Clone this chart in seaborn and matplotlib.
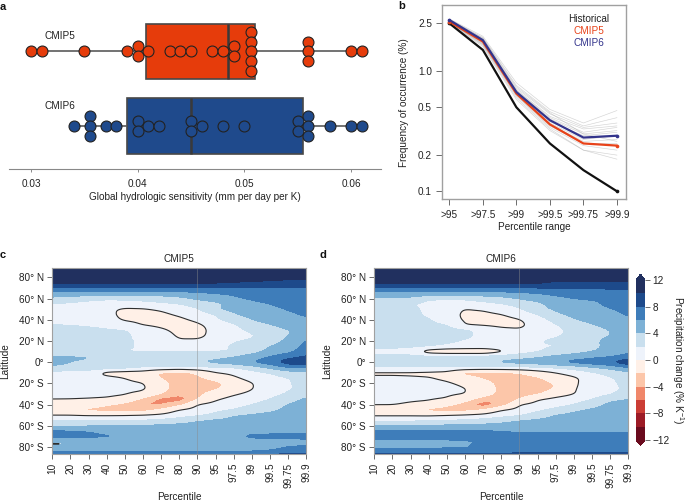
import numpy as np
import pandas as pd
import matplotlib
matplotlib.use("Agg")
import matplotlib.pyplot as plt
from matplotlib.colors import ListedColormap, BoundaryNorm
import seaborn as sns

sns.set_theme(style="ticks")
plt.rcParams["font.family"] = ["Liberation Sans", "DejaVu Sans"]
plt.rcParams["mathtext.default"] = "regular"
plt.rcParams["axes.unicode_minus"] = True

W, H = 685, 501
FS = 7.2
TXT = "#222222"

# ---------- panel a ----------
GROUPS = ["CMIP5", "CMIP6"]
HS_CMIP5 = [0.030, 0.031, 0.035, 0.039, 0.040, 0.040, 0.041, 0.043, 0.044, 0.045, 0.047, 0.048,
            0.049, 0.049, 0.0502, 0.0504, 0.0504, 0.0510, 0.0510, 0.056, 0.056, 0.056, 0.060, 0.061]
HS_CMIP6 = [0.034, 0.0355, 0.0355, 0.0355, 0.037, 0.038, 0.040, 0.040, 0.041, 0.042, 0.045, 0.045,
            0.046, 0.048, 0.050, 0.055, 0.055, 0.056, 0.056, 0.056, 0.058, 0.060, 0.061]
HS_TICKS = [0.03, 0.04, 0.05, 0.06]

# ---------- panel b ----------
RANGES = [">95", ">97.5", ">99", ">99.5", ">99.75", ">99.9"]
HISTORICAL = [2.50, 1.50, 0.50, 0.25, 0.15, 0.10]
FREQ_CMIP5 = [2.58, 1.76, 0.65, 0.36, 0.25, 0.24]
FREQ_CMIP6 = [2.66, 1.81, 0.67, 0.39, 0.28, 0.29]
MODELS = [
    [2.72, 1.95, 0.80, 0.48, 0.37, 0.47],
    [2.68, 1.90, 0.76, 0.46, 0.35, 0.41],
    [2.66, 1.85, 0.72, 0.44, 0.34, 0.37],
    [2.64, 1.82, 0.70, 0.42, 0.33, 0.35],
    [2.62, 1.80, 0.69, 0.41, 0.31, 0.34],
    [2.60, 1.78, 0.67, 0.40, 0.30, 0.32],
    [2.60, 1.75, 0.66, 0.38, 0.29, 0.31],
    [2.58, 1.72, 0.65, 0.37, 0.27, 0.29],
    [2.56, 1.70, 0.64, 0.36, 0.26, 0.27],
    [2.55, 1.68, 0.63, 0.35, 0.25, 0.25],
    [2.54, 1.66, 0.62, 0.34, 0.24, 0.22],
    [2.52, 1.64, 0.60, 0.33, 0.22, 0.20],
    [2.50, 1.60, 0.58, 0.32, 0.22, 0.185],
    [2.70, 1.88, 0.74, 0.45, 0.30, 0.26],
]
FREQ_TICKS = [0.1, 0.2, 0.5, 1.0, 2.5]

# ---------- panels c, d ----------
PERCENTILES = ["10", "20", "30", "40", "50", "60", "70", "80", "90", "95", "97.5", "99", "99.5", "99.75", "99.9"]
LAT_LABELS = ["80° N", "60° N", "40° N", "20° N", "0°", "20° S", "40° S", "60° S", "80° S"]
LAT_TICKS = [80, 60, 40, 20, 0, -20, -40, -60, -80]
LAT_C = [89, 80, 75, 70, 65, 60, 55, 50, 45, 40, 35, 30, 25, 20, 15, 10, 5, 0, -5, -10, -15, -20, -25, -30,
         -35, -40, -45, -50, -55, -60, -65, -70, -75, -76, -77, -78, -80, -85, -87]
CHANGE_C = [
    [13, 13, 13, 13, 13, 13, 13, 13, 13, 13, 13, 13, 13, 13, 13],
    [12, 12, 12, 12, 12, 12, 12, 12, 12, 12, 12, 12, 11, 10.6, 10.5],
    [10.8, 10.8, 10.8, 10.8, 10.8, 10.8, 10.8, 10.8, 10.6, 10.2, 9.8, 9.5, 9.3, 9.3, 9.3],
    [7.7, 7.7, 7.7, 7.7, 7.7, 7.7, 7.7, 7.8, 8.0, 8.0, 7.9, 7.9, 7.9, 7.9, 7.9],
    [5.3, 5.4, 5.0, 5.0, 5.0, 5.0, 5.0, 5.2, 5.6, 6.0, 6.3, 7.0, 7.0, 7.2, 7.3],
    [3.5, 3.2, 2.6, 2.2, 2.3, 2.6, 3.0, 3.5, 4.3, 5.0, 5.7, 6.2, 6.6, 6.8, 7.0],
    [2.0, 1.6, 1.3, 1.2, 1.2, 1.3, 1.6, 2.0, 2.9, 3.4, 4.9, 5.6, 6.0, 6.4, 6.8],
    [1.2, 1.0, 0.7, 0.4, -0.3, -0.2, 0.2, 0.8, 1.8, 3.9, 4.5, 5.1, 5.7, 6.1, 6.6],
    [1.0, 0.9, 0.7, 0.4, -0.4, -0.5, -0.3, 0.2, 0.9, 2.0, 3.8, 4.6, 5.1, 5.7, 6.2],
    [1.2, 1.1, 0.9, 0.6, -0.2, -0.3, -0.5, -0.3, 0.3, 1.7, 2.7, 4.0, 4.6, 5.3, 5.8],
    [2.1, 2.0, 1.8, 1.5, 0.7, -0.1, -0.4, -0.6, -0.3, 0.7, 1.7, 3.2, 3.9, 4.6, 5.2],
    [2.6, 2.6, 2.4, 2.2, 2.1, 1.4, 0.3, -0.5, -0.7, 0.7, 1.4, 2.3, 3.2, 3.9, 4.6],
    [3.0, 3.0, 2.8, 2.5, 2.2, 1.6, 0.9, -0.3, -0.6, 0.8, 1.3, 1.8, 2.9, 4.0, 4.5],
    [3.0, 3.0, 2.8, 2.5, 2.1, 1.9, 1.2, 0.2, 0.4, 1.0, 1.9, 2.2, 3.2, 4.4, 6.2],
    [2.4, 2.4, 2.4, 2.4, 2.3, 1.7, 1.4, 1.2, 1.3, 1.6, 2.2, 3.0, 4.0, 4.8, 6.6],
    [1.8, 1.9, 1.9, 1.8, 1.9, 1.9, 1.9, 1.9, 1.9, 1.9, 2.0, 3.2, 4.5, 5.4, 7.2],
    [4.3, 4.3, 4.2, 3.9, 3.2, 2.9, 2.8, 2.9, 3.1, 3.4, 4.0, 5.0, 6.1, 7.4, 8.3],
    [4.8, 4.0, 3.6, 3.2, 3.0, 3.0, 3.0, 3.4, 4.1, 4.5, 5.2, 6.1, 7.2, 9.2, 9.8],
    [3.5, 3.4, 3.2, 3.0, 2.6, 2.0, 1.8, 1.7, 1.6, 1.9, 2.0, 3.0, 4.4, 6.0, 6.0],
    [1.3, 1.2, 1.0, -0.7, -0.9, -1.0, -2.4, -3.0, -1.8, -0.1, 0.4, 1.3, 2.0, 3.0, 3.4],
    [1.1, 1.0, 0.8, 0.5, 0.0, -0.8, -2.1, -3.0, -2.4, -1.3, -0.3, 0.6, 1.5, 1.9, 3.0],
    [0.9, 0.8, 0.7, 0.5, 0.4, 0.1, -1.4, -2.8, -3.2, -2.6, -1.0, -0.1, 1.0, 1.8, 2.8],
    [0.8, 0.7, 0.6, 0.5, 0.4, 0.3, -1.4, -2.8, -3.2, -2.3, -1.0, -0.1, 1.0, 1.8, 2.5],
    [0.6, 0.5, 0.4, 0.3, 0.1, -0.5, -2.0, -3.6, -2.6, -0.9, -0.2, 0.4, 1.3, 2.2, 3.5],
    [-0.05, -0.05, -0.1, -0.2, -0.6, -2.4, -4.8, -5.2, -2.0, -0.2, 0.5, 1.1, 2.0, 3.3, 4.3],
    [-0.5, -0.6, -1.0, -1.8, -2.6, -4.4, -4.2, -2.6, 0.1, 0.6, 1.1, 2.0, 3.0, 4.1, 4.6],
    [-1.1, -1.2, -2.5, -2.8, -2.9, -2.9, -1.6, 0.1, 0.6, 1.5, 2.1, 3.0, 3.6, 4.4, 4.8],
    [-0.1, -0.1, -0.2, -0.2, -0.1, 0.1, 0.4, 1.1, 1.7, 2.5, 3.9, 4.2, 4.5, 4.8, 5.0],
    [2.0, 2.0, 2.0, 2.0, 2.0, 2.1, 2.4, 3.0, 3.8, 4.3, 4.5, 4.7, 4.9, 5.0, 5.2],
    [3.7, 3.8, 3.9, 4.0, 4.1, 4.2, 4.5, 4.6, 4.8, 5.0, 5.0, 5.1, 5.2, 5.3, 5.4],
    [6.5, 6.2, 6.0, 5.5, 5.4, 5.0, 5.0, 5.0, 5.0, 5.0, 5.1, 5.2, 5.3, 5.5, 5.6],
    [6.2, 6.4, 6.3, 6.2, 6.1, 5.4, 5.0, 5.0, 5.0, 5.0, 5.6, 6.5, 6.6, 6.6, 6.7],
    [5.0, 5.0, 5.0, 5.0, 5.0, 5.0, 5.0, 5.0, 5.0, 5.0, 5.0, 5.0, 5.0, 5.0, 5.5],
    [5.0, 5.0, 5.0, 5.0, 5.0, 5.0, 5.0, 5.0, 5.0, 5.0, 5.0, 5.0, 5.0, 5.1, 5.6],
    [-3.0, 5.0, 5.0, 5.0, 5.0, 5.0, 5.0, 5.0, 5.0, 5.0, 5.0, 5.0, 5.0, 5.2, 5.6],
    [5.0, 5.0, 5.0, 5.0, 5.0, 5.0, 5.0, 5.0, 5.0, 5.0, 5.0, 5.0, 5.1, 5.4, 5.8],
    [5.0, 5.0, 5.0, 5.0, 5.0, 5.0, 5.0, 5.0, 5.0, 5.0, 5.0, 5.0, 5.3, 6.1, 6.6],
    [6.3, 6.3, 6.3, 6.3, 6.3, 6.3, 6.3, 6.3, 6.3, 6.3, 6.3, 6.3, 6.5, 7.0, 7.4],
    [8.3, 8.3, 8.3, 8.3, 8.3, 8.3, 8.3, 8.3, 8.3, 8.3, 8.3, 8.3, 8.3, 8.3, 8.3],
]
LAT_D = [89, 80, 75, 70, 65, 60, 55, 50, 45, 40, 35, 30, 25, 20, 15, 10, 5, 0, -5, -10, -15, -20, -25, -30,
         -35, -40, -45, -50, -55, -60, -65, -70, -75, -80, -85, -87]
CHANGE_D = [
    [13, 13, 13, 13, 13, 13, 13, 13, 13, 13, 13, 13, 13, 13, 13],
    [12, 12, 12, 12, 12, 12, 12, 12, 12, 12, 11, 11, 11, 11, 11],
    [10.6, 10.6, 10.6, 10.6, 10.6, 10.6, 10.6, 10.6, 10.6, 10.4, 9.6, 9.6, 9.6, 9.6, 9.6],
    [7.7, 7.7, 7.7, 7.7, 7.7, 7.7, 7.7, 7.7, 7.7, 8.0, 8.2, 8.2, 8.2, 8.2, 8.2],
    [5.4, 5.4, 5.4, 5.4, 5.4, 5.4, 5.4, 5.4, 5.7, 6.0, 6.4, 6.7, 7.0, 7.2, 7.4],
    [3.6, 3.6, 3.5, 2.2, 2.1, 2.2, 2.7, 3.3, 4.1, 4.9, 5.6, 6.0, 6.2, 6.1, 7.0],
    [3.0, 3.0, 2.1, 1.5, 1.2, 1.2, 1.5, 1.9, 2.6, 3.4, 4.9, 5.4, 5.6, 6.5, 7.1],
    [2.9, 2.8, 2.5, 1.5, 0.9, -0.1, 0.2, 0.9, 1.8, 3.5, 4.2, 4.8, 5.2, 5.9, 6.5],
    [2.8, 2.8, 2.6, 1.6, 0.7, -0.3, -0.4, -0.05, 0.7, 2.0, 3.7, 4.4, 4.8, 5.4, 6.2],
    [2.8, 2.8, 2.7, 2.2, 0.8, -0.2, -0.5, -0.5, -0.1, 1.0, 2.6, 3.9, 4.4, 4.9, 5.8],
    [2.8, 2.8, 2.7, 2.4, 2.1, -0.05, -0.2, -0.4, -0.5, 1.0, 1.8, 3.2, 3.9, 4.4, 5.2],
    [2.8, 2.8, 2.7, 2.6, 2.6, 2.3, 1.5, 0.5, 0.3, 0.9, 1.4, 2.6, 3.5, 4.0, 4.7],
    [2.8, 2.8, 2.8, 2.7, 2.6, 2.4, 1.5, 1.0, 1.1, 1.4, 1.8, 2.5, 3.6, 4.0, 4.5],
    [2.6, 2.6, 2.6, 2.5, 2.4, 1.8, 1.3, 1.3, 1.5, 1.9, 2.3, 3.0, 3.8, 4.3, 4.6],
    [2.4, 2.4, 2.3, 2.2, 1.6, 1.3, 1.2, 1.3, 1.6, 1.9, 1.9, 3.0, 3.8, 4.2, 4.6],
    [1.5, 1.4, 1.0, -1.2, -1.6, -1.6, -1.6, -0.5, 1.0, 1.8, 2.6, 3.3, 3.9, 4.4, 5.6],
    [2.5, 2.5, 2.6, 2.7, 2.7, 2.7, 2.7, 3.0, 3.3, 3.8, 4.5, 5.0, 5.6, 6.0, 6.9],
    [3.0, 3.0, 3.0, 3.0, 3.0, 3.0, 3.2, 4.4, 4.8, 5.2, 6.0, 6.7, 7.2, 8.0, 9.6],
    [1.9, 1.9, 1.9, 1.9, 1.9, 1.9, 1.7, 1.7, 1.6, 1.8, 2.2, 2.8, 3.8, 4.6, 6.0],
    [-0.3, -0.3, -0.3, -0.4, -0.6, -2.7, -2.9, -2.7, -2.0, -1.0, -0.05, 0.8, 1.7, 2.8, 3.4],
    [0.3, 0.3, 0.2, 0.1, -0.3, -1.2, -2.2, -3.0, -2.9, -2.3, -1.0, -0.3, 0.8, 1.7, 3.0],
    [0.6, 0.6, 0.5, 0.4, 0.2, -0.3, -1.2, -2.7, -3.2, -2.9, -1.9, -0.3, 0.9, 1.6, 2.6],
    [0.7, 0.7, 0.6, 0.5, 0.4, 0.05, -0.6, -2.6, -3.2, -2.8, -1.9, -0.1, 0.7, 1.6, 2.3],
    [0.5, 0.5, 0.4, 0.3, 0.2, 0.05, -1.0, -2.6, -2.9, -2.3, -0.9, -0.05, 0.9, 1.8, 2.8],
    [0.3, 0.3, 0.2, 0.1, -0.1, -1.2, -3.0, -4.4, -1.9, -0.1, 0.5, 1.1, 2.0, 3.5, 4.1],
    [0.1, 0.1, -0.2, -0.4, -1.6, -2.8, -5.4, -3.0, 0.0, 0.5, 1.1, 2.0, 3.1, 4.5, 4.6],
    [-0.9, -1.0, -1.3, -2.6, -2.9, -2.8, -1.8, -0.1, 0.5, 1.5, 2.6, 3.7, 4.3, 4.7, 4.9],
    [-0.3, -0.3, -0.3, -0.3, -0.05, 0.2, 0.5, 1.2, 1.8, 3.0, 4.1, 4.4, 4.6, 4.9, 5.0],
    [1.6, 1.6, 1.7, 1.8, 2.0, 2.3, 2.7, 3.3, 4.0, 4.3, 4.6, 4.8, 5.0, 5.0, 5.2],
    [4.2, 4.2, 4.2, 4.3, 4.4, 4.5, 4.6, 4.7, 4.9, 5.0, 5.1, 5.2, 5.3, 5.4, 5.5],
    [6.2, 6.2, 6.2, 6.2, 6.2, 6.2, 6.2, 6.0, 5.7, 5.7, 5.7, 5.7, 5.7, 5.7, 5.7],
    [6.8, 6.8, 6.8, 6.8, 6.8, 6.8, 6.8, 6.8, 6.8, 6.8, 6.8, 6.8, 6.8, 6.8, 6.8],
    [5.4, 5.4, 5.4, 5.5, 5.6, 5.8, 6.2, 6.8, 6.8, 6.8, 6.8, 6.8, 6.8, 6.8, 6.8],
    [5.4, 5.4, 5.4, 5.5, 5.7, 5.9, 6.4, 7.0, 7.0, 7.0, 7.0, 7.0, 7.0, 7.0, 7.0],
    [7.5, 7.5, 7.5, 7.5, 7.5, 7.5, 7.5, 7.5, 7.9, 7.9, 7.9, 7.9, 7.9, 7.9, 7.9],
    [8.5, 8.5, 8.5, 8.5, 8.5, 8.5, 8.5, 8.5, 8.5, 8.5, 8.5, 8.5, 8.5, 8.5, 8.5],
]
LEVELS = [-12, -10, -8, -6, -4, -2, 0, 2, 4, 6, 8, 10, 12]
BAND_COLORS = ["#6A0B1E", "#9C1B26", "#CB3D35", "#F0876A", "#FCC6A9", "#FFF0E7",
               "#EEF3FB", "#C9DFEE", "#7DB1D6", "#3E7DBA", "#1D4A8B", "#21305F"]
CBAR_TICKS = [-12, -8, -4, 0, 4, 8, 12]


def axes_px(fig, left, top, right, bottom):
    return fig.add_axes([left / W, 1 - bottom / H, (right - left) / W, (bottom - top) / H])


def fig_text(fig, x, y, s, **kw):
    kw.setdefault("fontsize", FS)
    kw.setdefault("color", TXT)
    kw.setdefault("ha", "center")
    kw.setdefault("va", "center")
    fig.text(x / W, 1 - y / H, s, **kw)


def stack_offsets(values, tol=0.0009, step=0.13):
    """Dot-plot binning: near-equal values share a column, stacked about the centre."""
    vals = np.sort(np.asarray(values))
    xs, ys, i = [], [], 0
    while i < len(vals):
        j = i
        while j + 1 < len(vals) and vals[j + 1] - vals[i] < tol:
            j += 1
        n = j - i + 1
        xs += [vals[i:j + 1].mean()] * n
        ys += list((np.arange(n) - (n - 1) / 2) * step)
        i = j + 1
    return np.array(xs), np.array(ys)


def soften(lat, change):
    """Resample the read-off table finely and round its corners, so the bands have soft edges."""
    lat = np.asarray(lat, dtype=float)
    z = np.asarray(change, dtype=float)
    order = np.argsort(lat)
    fx = np.arange(0, z.shape[1] - 1 + 1e-9, 0.05)
    fy = np.arange(lat.min(), lat.max() + 1e-9, 0.25)
    by_lat = np.array([np.interp(fy, lat[order], z[order, c]) for c in range(z.shape[1])]).T
    fine = np.array([np.interp(fx, np.arange(z.shape[1]), r) for r in by_lat])

    def box(a, n, axis):
        k = np.ones(n) / n
        pad = n
        out = np.pad(a, [(pad, pad) if i == axis else (0, 0) for i in range(2)], mode="edge")
        out = np.apply_along_axis(lambda v: np.convolve(v, k, mode="same"), axis, out)
        return out[pad:-pad, :] if axis == 0 else out[:, pad:-pad]

    fine = box(box(fine, 9, 1), 9, 1)          # along percentile: about 0.45 column, twice
    smooth = box(box(fine, 13, 0), 13, 0)      # along latitude: about 3 degrees, twice
    keep = fy < -72                            # the thin polar streak stays sharp
    smooth[keep] = fine[keep]
    return fx, fy, smooth


fig = plt.figure(figsize=(W / 100, H / 100), dpi=100)

# ---------------- a ----------------
axa = axes_px(fig, 9, 10, 381, 169)
RED, BLUE = "#E63C0B", "#1F4A8C"
box_df = pd.DataFrame({"hs": HS_CMIP5 + HS_CMIP6,
                       "group": [GROUPS[0]] * len(HS_CMIP5) + [GROUPS[1]] * len(HS_CMIP6)})
sns.boxplot(data=box_df, x="hs", y="group", hue="group", order=GROUPS, hue_order=GROUPS,
            palette=[RED, BLUE], whis=(0, 100), width=0.74, showcaps=False, fliersize=0,
            linewidth=1.2, linecolor="#484848", saturation=1, dodge=False, legend=False, ax=axa,
            medianprops={"linewidth": 1.8, "color": "#3a3a3a"},
            whiskerprops={"color": "#5a5a5a", "linewidth": 1.2})
for k, (vals, col) in enumerate(zip([HS_CMIP5, HS_CMIP6], [RED, BLUE])):
    xs, off = stack_offsets(vals)
    sns.scatterplot(x=xs, y=k + off, color=col, s=62, edgecolor="#222222", linewidth=0.8,
                    ax=axa, zorder=5, legend=False, clip_on=False)
axa.set_xlim(0.02794, 0.06281)
axa.set_ylim(1.576, -0.553)
axa.set_xticks(HS_TICKS)
axa.set_xticklabels(["0.03", "0.04", "0.05", "0.06"], fontsize=FS, color=TXT)
axa.tick_params(axis="x", length=2, width=0.6, color="#777777", pad=5)
axa.set_yticks([])
axa.set_xlabel("")
axa.set_ylabel("")
for s in ["left", "top", "right"]:
    axa.spines[s].set_visible(False)
axa.spines["bottom"].set_color("#888888")
axa.spines["bottom"].set_linewidth(0.8)
fig_text(fig, 60, 36, "CMIP5")
fig_text(fig, 60, 106, "CMIP6")
fig_text(fig, 195, 197, "Global hydrologic sensitivity (mm per day per K)")

# ---------------- b ----------------
axb = axes_px(fig, 441.7, 5.3, 625.7, 199.3)
pos = np.arange(len(RANGES))
for m in MODELS:
    sns.lineplot(x=pos, y=m, color="#a8a8a8", lw=0.45, alpha=0.5, ax=axb, errorbar=None)
for series, col in zip([HISTORICAL, FREQ_CMIP5, FREQ_CMIP6], ["#111111", "#E8431A", "#33348C"]):
    sns.lineplot(x=pos, y=series, color=col, lw=1.6, ax=axb, errorbar=None, zorder=4)
    sns.scatterplot(x=pos[[0, -1]], y=[series[0], series[-1]], color=col, s=7, linewidth=0, ax=axb, zorder=5)
axb.set_yscale("log")
axb.set_xlim(-0.227, 5.26)
axb.set_ylim(0.0858, 3.527)
axb.set_xticks(pos)
axb.set_xticklabels(RANGES, fontsize=FS, color=TXT)
axb.set_yticks(FREQ_TICKS)
axb.set_yticklabels(["0.1", "0.2", "0.5", "1.0", "2.5"], fontsize=FS, color=TXT)
axb.minorticks_off()
axb.tick_params(axis="both", length=4, width=0.6, color="#555555", pad=3)
axb.tick_params(axis="x", pad=4)
for s in axb.spines.values():
    s.set_color("#a0a0a0")
    s.set_linewidth(1.0)
fig_text(fig, 404, 103, "Frequency of occurrence (%)", rotation=90)
fig_text(fig, 534, 227, "Percentile range")
fig_text(fig, 589, 19, "Historical")
fig_text(fig, 589, 31, "CMIP5", color="#E8431A")
fig_text(fig, 589, 43, "CMIP6", color="#33348C")

# ---------------- c, d ----------------
cmap = ListedColormap(BAND_COLORS)
cmap.set_under(BAND_COLORS[0])
cmap.set_over(BAND_COLORS[-1])
norm = BoundaryNorm(LEVELS, cmap.N)
cs = None
for (left, right, lat, change, title) in [(52.3, 306.3, LAT_C, CHANGE_C, "CMIP5"),
                                          (374.3, 628.3, LAT_D, CHANGE_D, "CMIP6")]:
    ax = axes_px(fig, left, 268, right, 454.3)
    fx, fy, fz = soften(lat, change)
    cs = ax.contourf(fx, fy, fz, levels=LEVELS, cmap=cmap, norm=norm, extend="both")
    ax.contour(fx, fy, fz, levels=[0], colors="#2e2e2e", linewidths=0.8)
    ax.axvline(8, color="#8a8a8a", lw=0.4, alpha=0.8)
    ax.set_xlim(0, 14)
    ax.set_ylim(-86.9, 88.8)
    X = np.arange(len(PERCENTILES))
    ax.set_xticks(X)
    ax.set_xticklabels(PERCENTILES, rotation=90, fontsize=FS, color=TXT)
    ax.set_yticks(LAT_TICKS)
    ax.set_yticklabels(LAT_LABELS, fontsize=FS, color=TXT)
    ax.tick_params(axis="both", length=3.5, width=0.6, color="#555555", pad=2.5)
    for s in ax.spines.values():
        s.set_color("#a0a0a0")
        s.set_linewidth(0.8)
    cx = (left + right) / 2
    fig_text(fig, cx, 259, title)
    fig_text(fig, cx, 497, "Percentile")
    fig_text(fig, left - 47.5, 361, "Latitude", rotation=90)

cax = axes_px(fig, 636, 274.3, 645, 445.7)
cb = fig.colorbar(cs, cax=cax, extend="both", extendfrac=0.035, drawedges=False)
cb.set_ticks(CBAR_TICKS)
cb.ax.minorticks_off()
cb.ax.set_yticklabels(["\u221212", "\u22128", "\u22124", "0", "4", "8", "12"], fontsize=FS, color=TXT)
cb.ax.tick_params(length=3.5, width=0.6, color="#555555", pad=2)
cb.outline.set_linewidth(0)
fig_text(fig, 678, 360, "Precipitation change (% K$^{-1}$)", rotation=270)

# panel letters
for (x, y, s) in [(3, 7, "a"), (402, 6, "b"), (3, 255, "c"), (323, 255, "d")]:
    fig_text(fig, x, y, s, fontsize=8, fontweight="bold", color="#111111")

fig.savefig("out.png", dpi=100)
